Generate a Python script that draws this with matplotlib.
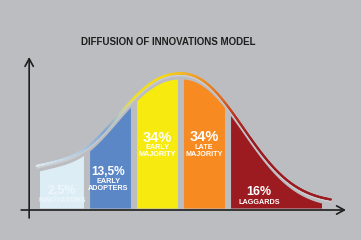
import numpy as np
import matplotlib.pyplot as plt
from matplotlib.collections import LineCollection
from matplotlib.colors import LinearSegmentedColormap

# adopter groups (segment edges in standard deviations)
groups = [["INNOVATORS"], ["EARLY", "ADOPTERS"], ["EARLY", "MAJORITY"],
          ["LATE", "MAJORITY"], ["LAGGARDS"]]
shares = ["2,5%", "13,5%", "34%", "34%", "16%"]
edges = [-3.0, -2.0, -1.0, 0.0, 1.0, 3.0]
colors = ["#dcedf6", "#5b87c6", "#f6ea0e", "#f78a20", "#9c1b20"]
text_colors = ["#eef6fa", "white", "white", "white", "white"]

BG = "#bcbdc1"
PX = 47.0          # pixels per standard deviation
GAP = 0.065        # half gap between bars, in sd


def bell(z):
    # bell outline of the infographic: flat top, wider left side, raised left tail
    a = np.where(z < 0, 0.22, 0.29)
    return 129 * np.exp(-a * np.abs(z) ** 2.2) + 30 / (1 + np.exp(3 * (z + 2.35)))


fig = plt.figure(figsize=(3.61, 2.40), dpi=100, facecolor=BG)
ax = fig.add_axes([0, 0, 1, 1])
ax.set_facecolor(BG)
ax.set_xlim(-180.5 / PX, 180.5 / PX)
ax.set_ylim(-32, 208)
ax.axis("off")

# bars under the curve
for i in range(5):
    lo = edges[i] + (GAP if i > 0 else 0)
    hi = edges[i + 1] - (GAP if i < 4 else 0)
    zz = np.linspace(lo, hi, 80)
    ax.fill_between(zz, 0, bell(zz), color=colors[i], lw=0, zorder=2)

# gradient outline above the bars
zl = np.linspace(-3.06, 3.2, 400)
yl = bell(zl) + 5.5
ax.plot(zl, yl - 2.2, color="#cdced2", lw=1.0, zorder=3, solid_capstyle="round")
cmap = LinearSegmentedColormap.from_list(
    "curve",
    [(0.0, "#dde9ef"), (0.137, "#b8cfe0"), (0.23, "#7ea6d4"), (0.29, "#c5d0b0"),
     (0.33, "#f1e21c"), (0.44, "#f6d51a"), (0.537, "#f5a224"), (0.63, "#e26a21"),
     (0.68, "#b3301f"), (0.73, "#9c1b20"), (1.0, "#9c1b20")])
pts = np.column_stack([zl, yl]).reshape(-1, 1, 2)
segs = np.concatenate([pts[:-1], pts[1:]], axis=1)
lc = LineCollection(segs, cmap=cmap, lw=1.6, zorder=4, capstyle="round")
lc.set_array((zl[:-1] - zl[0]) / (zl[-1] - zl[0]))
ax.add_collection(lc)

# labels (centre heights in pixels above the baseline)
label_x = [-2.52, -1.54, -0.5, 0.5, 1.67]
pct_y = [18.5, 37.5, 71.5, 72, 17.3]
pct_size = [9, 8.6, 10.5, 10.5, 9]
name_y = [[9], [27.8, 20.4], [61.8, 54.4], [61.8, 54.4], [6.3]]
NAME_SIZE = 5.2


def cap(size):
    return size * 100 / 72 * 0.716


for i in range(5):
    ax.text(label_x[i], pct_y[i] - cap(pct_size[i]) / 2, shares[i],
            ha="center", va="baseline", fontsize=pct_size[i], fontweight="bold",
            color=text_colors[i], family="Liberation Sans", zorder=5)
    for word, yy in zip(groups[i], name_y[i]):
        ax.text(label_x[i], yy - cap(NAME_SIZE) / 2, word, ha="center",
                va="baseline", fontsize=NAME_SIZE, fontweight="bold",
                color=text_colors[i], family="Liberation Sans", zorder=5)

# axes arrows
arrow = dict(arrowstyle="->,head_length=0.55,head_width=0.3", lw=1.2,
             color="#1e1e1e", mutation_scale=10, shrinkA=0, shrinkB=0)
ax.annotate("", xy=(-3.22, 151), xytext=(-3.22, -10), arrowprops=arrow, zorder=6)
ax.annotate("", xy=(3.52, -2), xytext=(-3.39, -2), arrowprops=arrow, zorder=6)

fig.text(168.5 / 361, 1 - 42 / 240, "DIFFUSION OF INNOVATIONS MODEL",
         ha="center", va="center", fontsize=7.0, fontweight="bold",
         color="#1e1e1e", family="Liberation Sans")

fig.savefig("out.png", dpi=100, facecolor=BG)
